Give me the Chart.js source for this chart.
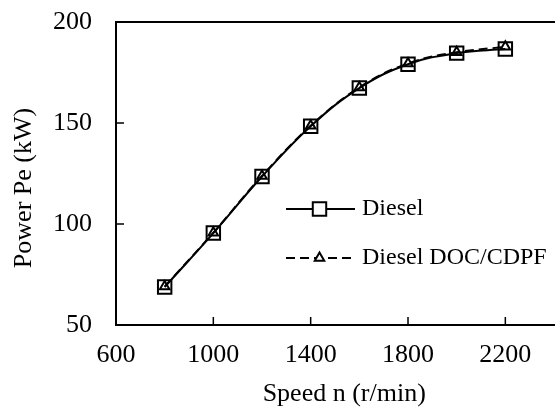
<!DOCTYPE html>
<html>
<head>
<meta charset="utf-8">
<script src="https://cdn.jsdelivr.net/npm/chart.js@4/dist/chart.umd.min.js"></script>
<style>
  html, body { margin: 0; padding: 0; background: #fff; }
  #wrap { width: 555px; height: 410px; overflow: hidden; }
</style>
</head>
<body>
<div id="wrap"><canvas id="myChart" width="584" height="410"></canvas></div>
<script>
// data
const speeds = [800, 1000, 1200, 1400, 1600, 1800, 2000, 2200];
const dieselPower = [68.8, 95.5, 123.5, 148.4, 167.3, 179.1, 184.6, 186.6];
const docPower = [69.0, 95.7, 123.8, 148.6, 167.6, 179.5, 185.0, 187.7];
const xTicks = [600, 1000, 1400, 1800, 2200];
const yTicks = [50, 100, 150, 200];
const seriesNames = ['Diesel', 'Diesel DOC/CDPF'];

const serif = "'Liberation Serif', 'Times New Roman', serif";

// inward tick marks + top frame line
const frameTicks = {
  id: 'frameTicks',
  afterDraw(chart) {
    const {ctx, chartArea: a, scales: {x, y}} = chart;
    ctx.save();
    ctx.strokeStyle = '#000';
    ctx.lineWidth = 2;
    ctx.beginPath();
    ctx.moveTo(a.left - 1, a.top);
    ctx.lineTo(a.right, a.top);
    ctx.stroke();
    ctx.lineWidth = 1.5;
    ctx.beginPath();
    xTicks.forEach(v => {
      if (v > x.min) {
        const px = x.getPixelForValue(v);
        ctx.moveTo(px, a.bottom);
        ctx.lineTo(px, a.bottom - 8);
      }
    });
    yTicks.forEach(v => {
      if (v > y.min && v < y.max) {
        const py = y.getPixelForValue(v);
        ctx.moveTo(a.left, py);
        ctx.lineTo(a.left + 8, py);
      }
    });
    ctx.stroke();

    // y axis title
    ctx.fillStyle = '#000';
    ctx.font = '26px ' + serif;
    ctx.textAlign = 'center';
    ctx.textBaseline = 'middle';
    ctx.translate(24, 188);
    ctx.rotate(-Math.PI / 2);
    ctx.fillText('Power Pe (kW)', 0, 0);
    ctx.restore();
  }
};

// legend inside the plot
const innerLegend = {
  id: 'innerLegend',
  afterDraw(chart) {
    const ctx = chart.ctx;
    const x0 = 286, x1 = 355, rows = [209, 258];
    ctx.save();
    chart.data.datasets.forEach((ds, i) => {
      const yy = rows[i];
      const cx = (x0 + x1) / 2 - 1;
      ctx.strokeStyle = '#000';
      ctx.lineWidth = 2;
      ctx.setLineDash(ds.borderDash || []);
      ctx.beginPath();
      ctx.moveTo(x0, yy);
      ctx.lineTo(x1, yy);
      ctx.stroke();
      ctx.setLineDash([]);
      ctx.beginPath();
      if (ds.pointStyle === 'rect') {
        const s = ds.pointRadius * Math.SQRT1_2;
        ctx.rect(cx - s, yy - s, 2 * s, 2 * s);
      } else {
        const r = ds.pointRadius;
        ctx.moveTo(cx, yy - r);
        ctx.lineTo(cx + r * 0.866, yy + r * 0.5);
        ctx.lineTo(cx - r * 0.866, yy + r * 0.5);
        ctx.closePath();
      }
      ctx.fillStyle = '#fff';
      ctx.fill();
      ctx.stroke();
      ctx.fillStyle = '#000';
      ctx.font = '24px ' + serif;
      ctx.textAlign = 'left';
      ctx.textBaseline = 'middle';
      ctx.fillText(ds.label, x1 + 7, yy);
    });
    ctx.restore();
  }
};

const ctx = document.getElementById('myChart').getContext('2d');
const myChart = new Chart(ctx, {
  type: 'line',
  data: {
    datasets: [{
      label: seriesNames[0],
      data: speeds.map((s, i) => ({x: s, y: dieselPower[i]})),
      borderColor: '#000',
      borderWidth: 2,
      tension: 0.4,
      pointStyle: 'rect',
      pointRadius: 9.5,
      pointBorderWidth: 2,
      pointBorderColor: '#000',
      pointBackgroundColor: 'rgba(0,0,0,0)'
    }, {
      label: seriesNames[1],
      data: speeds.map((s, i) => ({x: s, y: docPower[i]})),
      borderColor: '#000',
      borderWidth: 2,
      borderDash: [9, 5],
      tension: 0.4,
      pointStyle: 'triangle',
      pointRadius: 5.5,
      pointBorderWidth: 2,
      pointBorderColor: '#000',
      pointBackgroundColor: 'rgba(0,0,0,0)'
    }]
  },
  options: {
    responsive: false,
    animation: false,
    devicePixelRatio: 1,
    layout: { padding: { top: 22, left: 0, right: 0, bottom: 0 } },
    plugins: {
      legend: { display: false },
      tooltip: { enabled: false }
    },
    scales: {
      x: {
        type: 'linear',
        min: 600,
        max: 2476,
        afterBuildTicks: (scale) => { scale.ticks = xTicks.map(v => ({value: v})); },
        afterFit: (scale) => { scale.height = 85; scale.paddingLeft = 0; scale.paddingRight = 0; },
        grid: { display: false, drawTicks: false },
        border: { display: true, color: '#000', width: 2 },
        ticks: { color: '#000', font: { family: serif, size: 26 }, padding: 15, maxRotation: 0, callback: (v) => String(v) },
        title: { display: true, text: 'Speed n (r/min)', color: '#000', font: { family: serif, size: 26 }, padding: { top: 0, bottom: 0 } }
      },
      y: {
        min: 50,
        max: 200,
        afterBuildTicks: (scale) => { scale.ticks = yTicks.map(v => ({value: v})); },
        afterFit: (scale) => { scale.width = 116; scale.paddingTop = 0; scale.paddingBottom = 0; },
        grid: { display: false, drawTicks: false },
        border: { display: true, color: '#000', width: 2 },
        ticks: { color: '#000', font: { family: serif, size: 26 }, padding: 24, callback: (v) => String(v) },
        title: { display: false }
      }
    }
  },
  plugins: [frameTicks, innerLegend]
});
</script>
</body>
</html>
